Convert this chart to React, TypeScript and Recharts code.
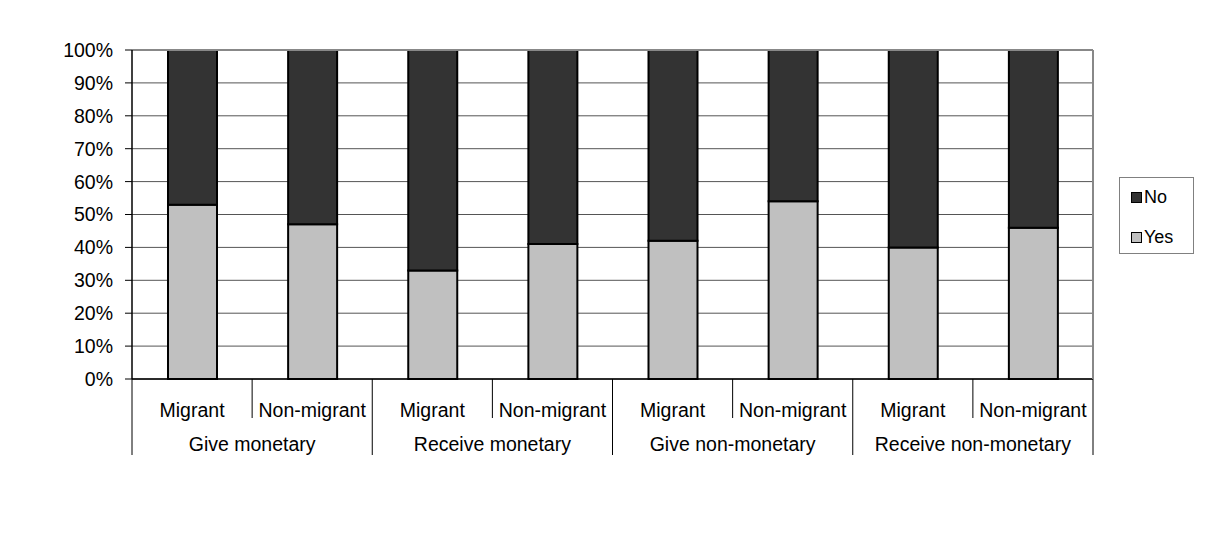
import { BarChart, Bar, XAxis, YAxis, CartesianGrid, ReferenceLine } from "recharts";

const groups = ["Give monetary", "Receive monetary", "Give non-monetary", "Receive non-monetary"];
const subs = ["Migrant", "Non-migrant"];
const yesValues = [53, 47, 33, 41, 42, 54, 40, 46];
const yTicks = [0, 10, 20, 30, 40, 50, 60, 70, 80, 90, 100];

const data = yesValues.map((yes, i) => ({
  name: subs[i % 2],
  group: groups[Math.floor(i / 2)],
  Yes: yes,
  No: 100 - yes,
}));

const W = 1208;
const H = 538;
const LEFT = 132;
const RIGHT = 115;
const TOP = 50;
const XH = 159;
const band = (W - LEFT - RIGHT) / data.length;
const font = "'Liberation Sans', Arial, sans-serif";

// two-level category axis: sub label, tick separators, and group label every 2 categories
function CatTick(props: any) {
  const { x, y, payload } = props;
  const base = y - 8;
  const i = payload.index;
  const left = x - band / 2;
  const right = x + band / 2;
  const isGroupStart = i % 2 === 0;
  return (
    <g>
      <line x1={left} x2={left} y1={base} y2={isGroupStart ? base + 76 : base + 39} stroke="#000" strokeWidth={1} />
      {i === data.length - 1 && (
        <>
          <line x1={right} x2={right} y1={base} y2={base + 76} stroke="#000" strokeWidth={1} />
          <line x1={right} x2={right} y1={base - 329} y2={base} stroke="#888" strokeWidth={2} />
        </>
      )}
      <text x={x} y={base + 38} textAnchor="middle" fontSize={19.5} fontFamily={font} fill="#000">
        {payload.value}
      </text>
      {isGroupStart && (
        <text x={right} y={base + 72} textAnchor="middle" fontSize={19.5} fontFamily={font} fill="#000">
          {data[i].group}
        </text>
      )}
    </g>
  );
}

const legendItems = [
  { label: "No", color: "#333333" },
  { label: "Yes", color: "#c0c0c0" },
];

function LegendBox() {
  return (
    <div
      style={{
        position: "absolute",
        left: 1119,
        top: 177,
        border: "1px solid #808080",
        width: 75,
        height: 77,
        boxSizing: "border-box",
        fontFamily: font,
        fontSize: 18,
        paddingLeft: 11,
        paddingTop: 5,
        background: "#fff",
      }}
    >
      {legendItems.map((it) => (
        <div key={it.label} style={{ display: "flex", alignItems: "center", height: 29, marginBottom: 11 }}>
          <span
            style={{
              display: "inline-block",
              width: 9,
              height: 9,
              background: it.color,
              border: "1.5px solid #000",
              marginRight: 2,
            }}
          />
          <span>{it.label}</span>
        </div>
      ))}
    </div>
  );
}

export default function App() {
  return (
    <div style={{ position: "relative", margin: -8, width: W, height: H, background: "#fff" }}>
      <BarChart width={W} height={H} data={data} margin={{ top: TOP, right: RIGHT, left: 0, bottom: 0 }}>
        <CartesianGrid vertical={false} stroke="#555" strokeWidth={1} />
        <XAxis
          dataKey="name"
          height={XH}
          axisLine={{ stroke: "#000", strokeWidth: 1.5 }}
          tickLine={false}
          tick={<CatTick />}
          interval={0}
        />
        <YAxis
          domain={[0, 100]}
          ticks={yTicks}
          width={LEFT}
          tickFormatter={(v) => `${v}%`}
          tickSize={7}
          tickMargin={12}
          axisLine={{ stroke: "#000", strokeWidth: 1.5 }}
          tickLine={{ stroke: "#000" }}
          tick={{ fill: "#000", fontSize: 19.5, fontFamily: font }}
          interval={0}
        />
        <ReferenceLine y={100} stroke="#888" strokeWidth={2} />
        <Bar dataKey="Yes" stackId="a" fill="#c0c0c0" stroke="#000" strokeWidth={2} barSize={49} isAnimationActive={false} />
        <Bar dataKey="No" stackId="a" fill="#333333" stroke="#000" strokeWidth={2} barSize={49} isAnimationActive={false} />
      </BarChart>
      <LegendBox />
    </div>
  );
}
